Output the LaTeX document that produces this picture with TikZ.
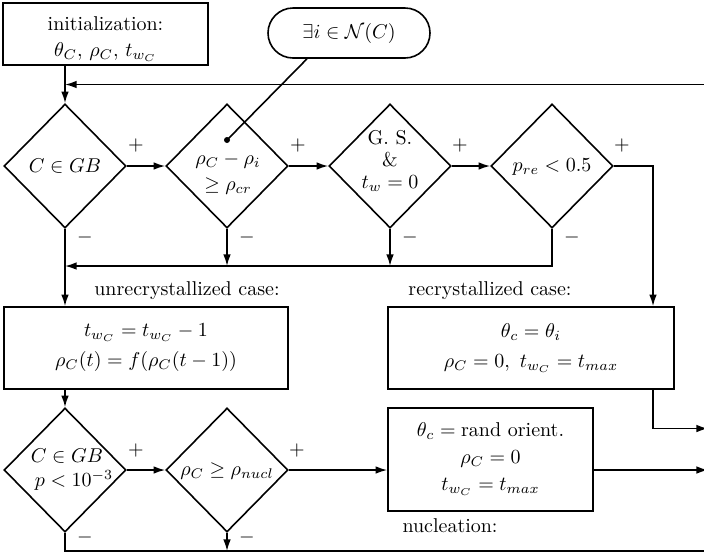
\documentclass[tikz,border=0pt]{standalone}
\usepackage{amsmath}
\usetikzlibrary{shapes.geometric,arrows.meta}
\begin{document}
\begin{tikzpicture}[x=0.5pt,y=-0.5pt,
  line width=0.8pt,
  arr/.style={-{Latex[length=5.8pt,width=3.8pt]}},
  dia/.style={draw,shape=diamond,inner sep=0pt,minimum width=61pt,minimum height=62pt},
  box/.style={draw,rectangle,align=center,inner sep=2pt},
  lbl/.style={inner sep=0pt,align=center}]
\useasboundingbox (0,0) rectangle (704,553);

% boxes
\node[box,minimum width=102.5pt,minimum height=31pt] (init) at (105.5,34) {};
\node[lbl] (tinit) at (105.5,39) {initialization:\\[1pt] $\theta_C,\,\rho_C,\,t_{w_C}$};
\node[box,rounded corners=12.5pt,minimum width=81pt,minimum height=25pt] (ex) at (349,33) {$\exists i\in\mathcal{N}(C)$};
\node[box,minimum width=142pt,minimum height=41pt] (unrec) at (146,348) {$t_{w_C}=t_{w_C}-1$\\[3pt] $\rho_C(t)=f(\rho_C(t-1))$};
\node[box,minimum width=143pt,minimum height=41pt] (rec) at (531,348) {$\theta_c=\theta_i$\\[3pt] $\rho_C=0,\ t_{w_C}=t_{max}$};
\node[box,minimum width=102.5pt,minimum height=51.5pt] (nuc) at (490.5,459.5) {$\theta_c=\text{rand orient.}$\\[1.5pt] $\rho_C=0$\\[1.5pt] $t_{w_C}=t_{max}$};

% diamonds
\node[dia] (d1) at (65,166) {};
\node[dia] (d2) at (227,166) {};
\node[dia] (d3) at (390,166) {};
\node[dia] (d4) at (552,166) {};
\node[dia] (d5) at (65,470) {};
\node[dia] (d6) at (227,470) {};

% diamond texts
\node[lbl] (t1) at (65,166) {$C\in GB$};
\node[lbl] (t2) at (228,173.5) {$\rho_C-\rho_i$\\[1pt] $\geq\rho_{cr}$};
\node[lbl] (t3) at (390,161) {G.\ S.\\[-1pt] \&\\[-1pt] $t_w=0$};
\node[lbl] (t4) at (552,167) {$p_{re}<0.5$};
\node[lbl] (t5) at (67,470) {$C\in GB$\\ \hspace*{7pt}$p<10^{-3}$};
\node[lbl] (t6) at (227,471) {$\rho_C\geq\rho_{nucl}$};

% case labels
\node[lbl] (lu) at (187,291) {unrecrystallized case:};
\node[lbl] (lr) at (490,291) {recrystallized case:};
\node[lbl] (ln) at (450,526) {nucleation:};

% signs
\node[lbl] (p1) at (136,145) {$+$};
\node[lbl] (p2) at (298,145) {$+$};
\node[lbl] (p3) at (460,145) {$+$};
\node[lbl] (p4) at (622,145) {$+$};
\node[lbl] (m1) at (85,237) {$-$};
\node[lbl] (m2) at (247,237) {$-$};
\node[lbl] (m3) at (410,237) {$-$};
\node[lbl] (m4) at (572,237) {$-$};
\node[lbl] (p5) at (136,450) {$+$};
\node[lbl] (p6) at (297,450) {$+$};
\node[lbl] (m5) at (85,537) {$-$};
\node[lbl] (m6) at (247,537) {$-$};

% dot
\node[circle,fill,inner sep=0pt,minimum size=3pt] (dot) at (227,140) {};

% helper coordinates
\coordinate (inR) at (704,84.5);
\coordinate (mg) at (0,266);
\coordinate (rx) at (653,0);
\coordinate (out1) at (708,428.5);
\coordinate (out2) at (708,470);
\coordinate (bt) at (704,551);

% connectors
\draw (dot.center) -- ([xshift=-21pt]ex.south);
\draw[arr] (d1.north |- init.south) -- (d1.north);
\draw[arr] (inR) -- (inR -| d1.north);
\draw[arr] (d1.east) -- (d2.west);
\draw[arr] (d2.east) -- (d3.west);
\draw[arr] (d3.east) -- (d4.west);
\draw[arr] (d4.east) -| (rx |- rec.north);
\draw[arr] (d2.south) -- (d2.south |- mg);
\draw[arr] (d3.south) -- (d3.south |- mg);
\draw[arr] (d4.south) -- (d4.south |- mg) -- (d1.south |- mg);
\draw[arr] (d1.south) -- (d1.south |- unrec.north);
\draw[arr] (rx |- rec.south) |- (out1);
\draw[arr] (d5.north |- unrec.south) -- (d5.north);
\draw[arr] (d5.east) -- (d6.west);
\draw[arr] (d6.east) -- (d6.east -| nuc.west);
\draw[arr] (nuc.east |- d6.east) -- (out2);
\draw (d5.south) |- (bt);
\draw[arr] (d6.south) -- (d6.south |- bt);
\end{tikzpicture}
\end{document}
